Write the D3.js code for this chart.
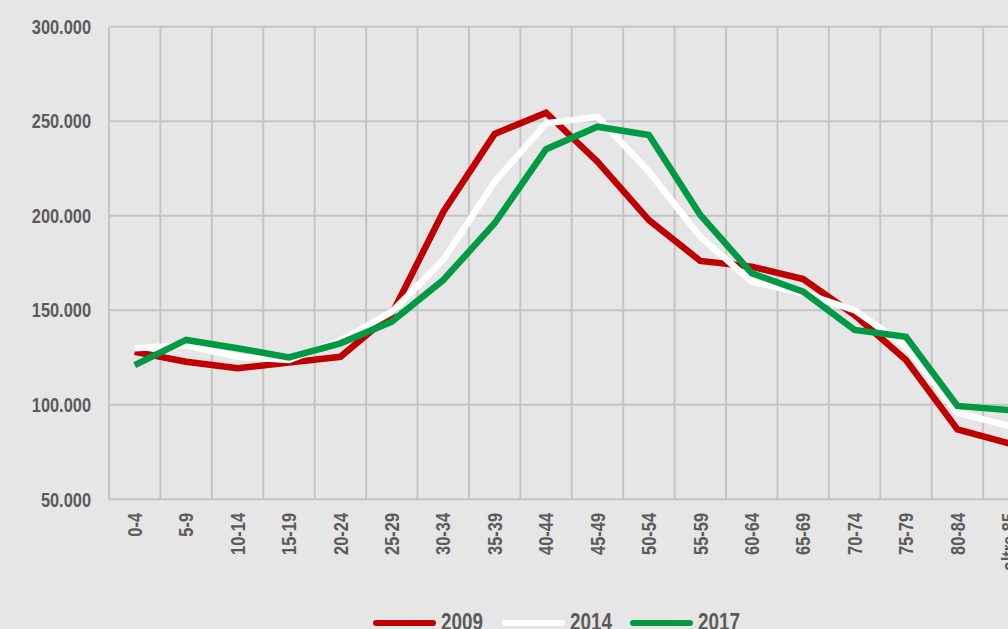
<!DOCTYPE html>
<html>
<head>
<meta charset="utf-8">
<script src="https://cdn.jsdelivr.net/npm/d3@7"></script>
<style>
  html, body { margin: 0; padding: 0; background: #e6e6e6; overflow: hidden; }
  svg { display: block; }
  .lbl { font-family: "Liberation Sans", Arial, sans-serif; font-weight: bold; fill: #5b5b5b; font-size: 20px; }
  .leg { font-size: 23px; }
</style>
</head>
<body>
<svg id="chart" width="1008" height="629"></svg>
<script>
var categories = ['0-4', '5-9', '10-14', '15-19', '20-24', '25-29', '30-34', '35-39', '40-44',
    '45-49', '50-54', '55-59', '60-64', '65-69', '70-74', '75-79', '80-84', 'oltre 85'];

var values2009 = [128000, 122800, 119300, 122300, 125400, 148000, 202000, 243300, 254500,
    228600, 197700, 176100, 173100, 166500, 147500, 123700, 87000, 79600];
var values2014 = [129900, 131500, 125400, 123700, 134000, 149200, 176600, 217900, 248900,
    252400, 223300, 188900, 165100, 159000, 150100, 131000, 95800, 88800];
var values2017 = [121000, 134300, 129900, 125100, 132500, 144000, 166000, 196000, 235200,
    247100, 242700, 200400, 169600, 159800, 139600, 136000, 99400, 97200];

var years = ['2009', '2014', '2017'];
var colors = ['#c00000', '#ffffff', '#009a44'];
var yTicks = [50000, 100000, 150000, 200000, 250000, 300000];

var svg = d3.select('#chart');

// narrow look for the labels
var squeeze = 0.82;
var plotLeft = 109, step = 51.42, plotTop = 26.7, plotBottom = 499.3;

var x = d3.scaleBand()
    .domain(categories)
    .range([plotLeft, plotLeft + step * categories.length])
    .padding(0);

var y = d3.scaleLinear()
    .domain([50000, 300000])
    .range([plotBottom, plotTop]);

var it = d3.formatLocale({ decimal: ',', thousands: '.', grouping: [3], currency: ['', '€'] });
var fmt = it.format(',.0f');

// grid
var grid = svg.append('g');
grid.selectAll('line.h')
    .data(yTicks)
    .enter().append('line')
    .attr('x1', plotLeft).attr('x2', x.range()[1])
    .attr('y1', function(d) { return y(d); })
    .attr('y2', function(d) { return y(d); })
    .style('stroke', '#c4c4c4').style('stroke-width', 2);

var bounds = categories.map(function(c) { return x(c); }).concat([x.range()[1]]);
grid.selectAll('line.v')
    .data(bounds)
    .enter().append('line')
    .attr('x1', function(d) { return d; })
    .attr('x2', function(d) { return d; })
    .attr('y1', plotTop).attr('y2', plotBottom)
    .style('stroke', '#c4c4c4').style('stroke-width', 2);

// y labels
svg.append('g').selectAll('text')
    .data(yTicks)
    .enter().append('text')
    .attr('class', 'lbl')
    .attr('dy', '0.36em')
    .attr('text-anchor', 'end')
    .attr('transform', function(d) {
        return 'translate(91,' + y(d) + ') scale(' + squeeze + ',1)';
    })
    .text(function(d) { return fmt(d); });

// x labels
svg.append('g').selectAll('text')
    .data(categories)
    .enter().append('text')
    .attr('class', 'lbl')
    .attr('text-anchor', 'end')
    .attr('dy', '0.36em')
    .attr('transform', function(d) {
        return 'translate(' + (x(d) + x.bandwidth() / 2) + ',513) rotate(-90) scale(' + squeeze + ',1)';
    })
    .text(function(d) { return d; });

// lines
var series = [values2009, values2014, values2017];
var line = d3.line()
    .x(function(d, i) { return x(categories[i]) + x.bandwidth() / 2; })
    .y(function(d) { return y(d); });

series.forEach(function(vals, i) {
    svg.append('path')
        .attr('d', line(vals))
        .style('fill', 'none')
        .style('stroke', colors[i])
        .style('stroke-width', 6.5)
        .style('stroke-linejoin', 'miter');
});

// legend
var legendX = [376, 505, 633];
var legend = svg.append('g');
years.forEach(function(yr, i) {
    legend.append('line')
        .attr('x1', legendX[i]).attr('x2', legendX[i] + 57)
        .attr('y1', 623).attr('y2', 623)
        .style('stroke', colors[i])
        .style('stroke-width', 6)
        .style('stroke-linecap', 'round');
    legend.append('text')
        .attr('class', 'lbl leg')
        .attr('transform', 'translate(' + (legendX[i] + 65) + ',630) scale(' + squeeze + ',1)')
        .text(yr);
});
</script>
</body>
</html>
